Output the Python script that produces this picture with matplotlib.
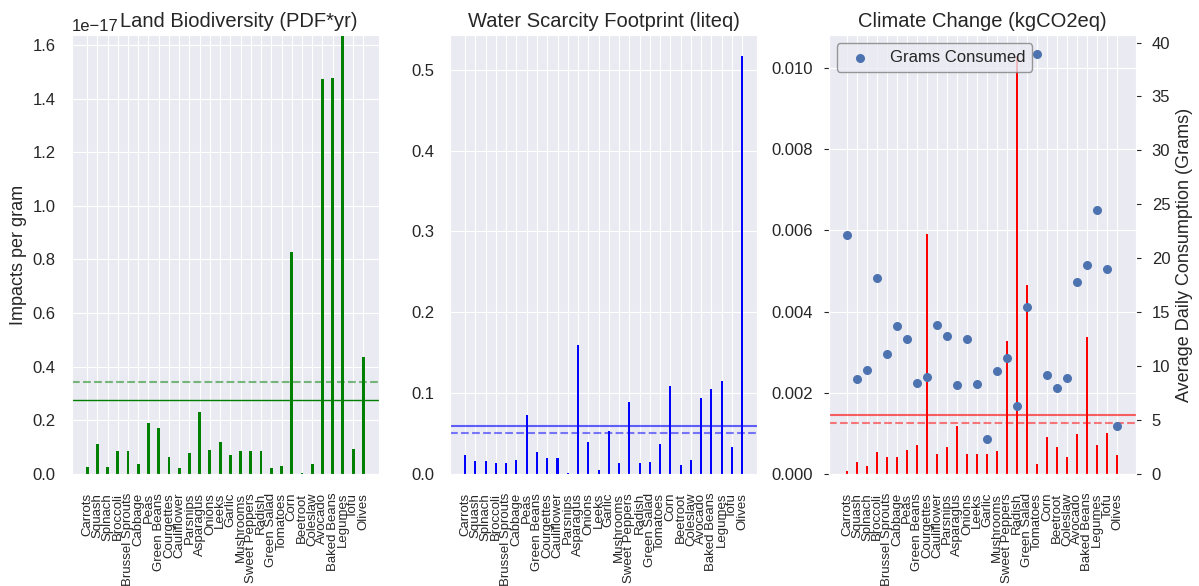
import numpy as np
import matplotlib
matplotlib.use("Agg")
import matplotlib.pyplot as plt
import seaborn as sns

sns.set_style("darkgrid")
plt.rcParams['font.family'] = ['Liberation Sans', 'DejaVu Sans']
plt.rcParams['ytick.major.pad'] = 8
plt.rcParams['xtick.major.pad'] = 10

foods = ['Carrots', 'Squash', 'Spinach', 'Broccoli', 'Brussel Sprouts', 'Cabbage',
         'Peas', 'Green Beans', 'Courgettes', 'Cauliflower', 'Parsnips', 'Asparagus',
         'Onions', 'Leeks', 'Garlic', 'Mushrooms', 'Sweet Peppers', 'Radish',
         'Green Salad', 'Tomatoes', 'Corn', 'Beetroot', 'Coleslaw', 'Avocado',
         'Baked Beans', 'Legumes', 'Tofu', 'Olives']

# impacts per gram
land = np.array([0.027, 0.111, 0.027, 0.085, 0.085, 0.036, 0.191, 0.170, 0.062, 0.024,
                 0.078, 0.231, 0.088, 0.119, 0.071, 0.085, 0.085, 0.085, 0.024, 0.030,
                 0.828, 0.003, 0.036, 1.473, 1.476, 1.640, 0.092, 0.437]) * 1e-17
water = np.array([0.0238, 0.0164, 0.0156, 0.0131, 0.0131, 0.0177, 0.0732, 0.0272, 0.0197,
                  0.0197, 0.0010, 0.1590, 0.0400, 0.0045, 0.0535, 0.0131, 0.0889, 0.0131,
                  0.0144, 0.0370, 0.1090, 0.0111, 0.0177, 0.0938, 0.1050, 0.1150, 0.0337,
                  0.5170])
climate = np.array([0.000066, 0.000289, 0.000206, 0.000553, 0.000421, 0.000421, 0.000594,
                    0.000718, 0.00591, 0.000503, 0.000677, 0.00118, 0.000487, 0.000487,
                    0.000487, 0.000569, 0.003276, 0.0103, 0.00466, 0.000248, 0.000924,
                    0.000677, 0.000421, 0.00099, 0.003375, 0.000718, 0.001007, 0.000462])

# average daily consumption (grams)
grams = np.array([22.15, 8.85, 9.62, 18.19, 11.14, 13.70, 12.53, 8.41, 8.97, 13.80,
                  12.75, 8.23, 12.53, 8.38, 3.25, 9.59, 10.80, 6.28, 15.44, 38.98,
                  9.22, 7.98, 8.91, 17.82, 19.37, 24.44, 18.99, 4.45])

x = np.arange(len(foods))

fig, axes = plt.subplots(1, 3, figsize=(11.99, 5.86), dpi=100)
fig.subplots_adjust(left=0.0598, right=0.9472, top=0.9403, bottom=0.1911, wspace=0.2325)

# values, colour, title, bar width, (mean line width, alpha)
panels = [(land, 'green', 'Land Biodiversity (PDF*yr)', 0.28, (1.0, 1.0)),
          (water, 'blue', 'Water Scarcity Footprint (liteq)', 0.2, (1.5, 0.6)),
          (climate, 'red', 'Climate Change (kgCO2eq)', 0.2, (1.5, 0.6))]

for ax, (vals, col, title, w, (mlw, ma)) in zip(axes, panels):
    ax.bar(x, vals, width=w, color=col, linewidth=0)
    # plain mean and consumption-weighted mean
    ax.axhline(np.mean(vals), color=col, lw=mlw, alpha=ma)
    ax.axhline(np.average(vals, weights=grams), color=col, lw=1.5, ls='--', alpha=0.5)
    ax.set_xticks(x)
    ax.set_xticklabels(foods, rotation=90, fontsize=9.5)
    ax.tick_params(axis='y', labelsize=12)
    ax.set_title(title, fontsize=14.5)

axes[0].set_ylim(0, 1.637e-17)
axes[0].yaxis.get_offset_text().set_fontsize(12)
axes[0].title.set_x(0.545)
axes[0].set_ylabel('Impacts per gram', fontsize=13)
axes[2].set_xlim(-1.83, 28.83)

ax2 = axes[2].twinx()
ax2.scatter(x, grams, s=30, color='#4C72B0', label='Grams Consumed', zorder=3)
ax2.set_ylim(0, 40.7)
ax2.grid(False)
ax2.tick_params(axis='y', labelsize=12)
ax2.set_ylabel('Average Daily Consumption (Grams)', fontsize=13)
ax2.legend(loc='upper left', frameon=True, fontsize=12, edgecolor='0.5', framealpha=0.8)

fig.savefig('out.png', dpi=100)
